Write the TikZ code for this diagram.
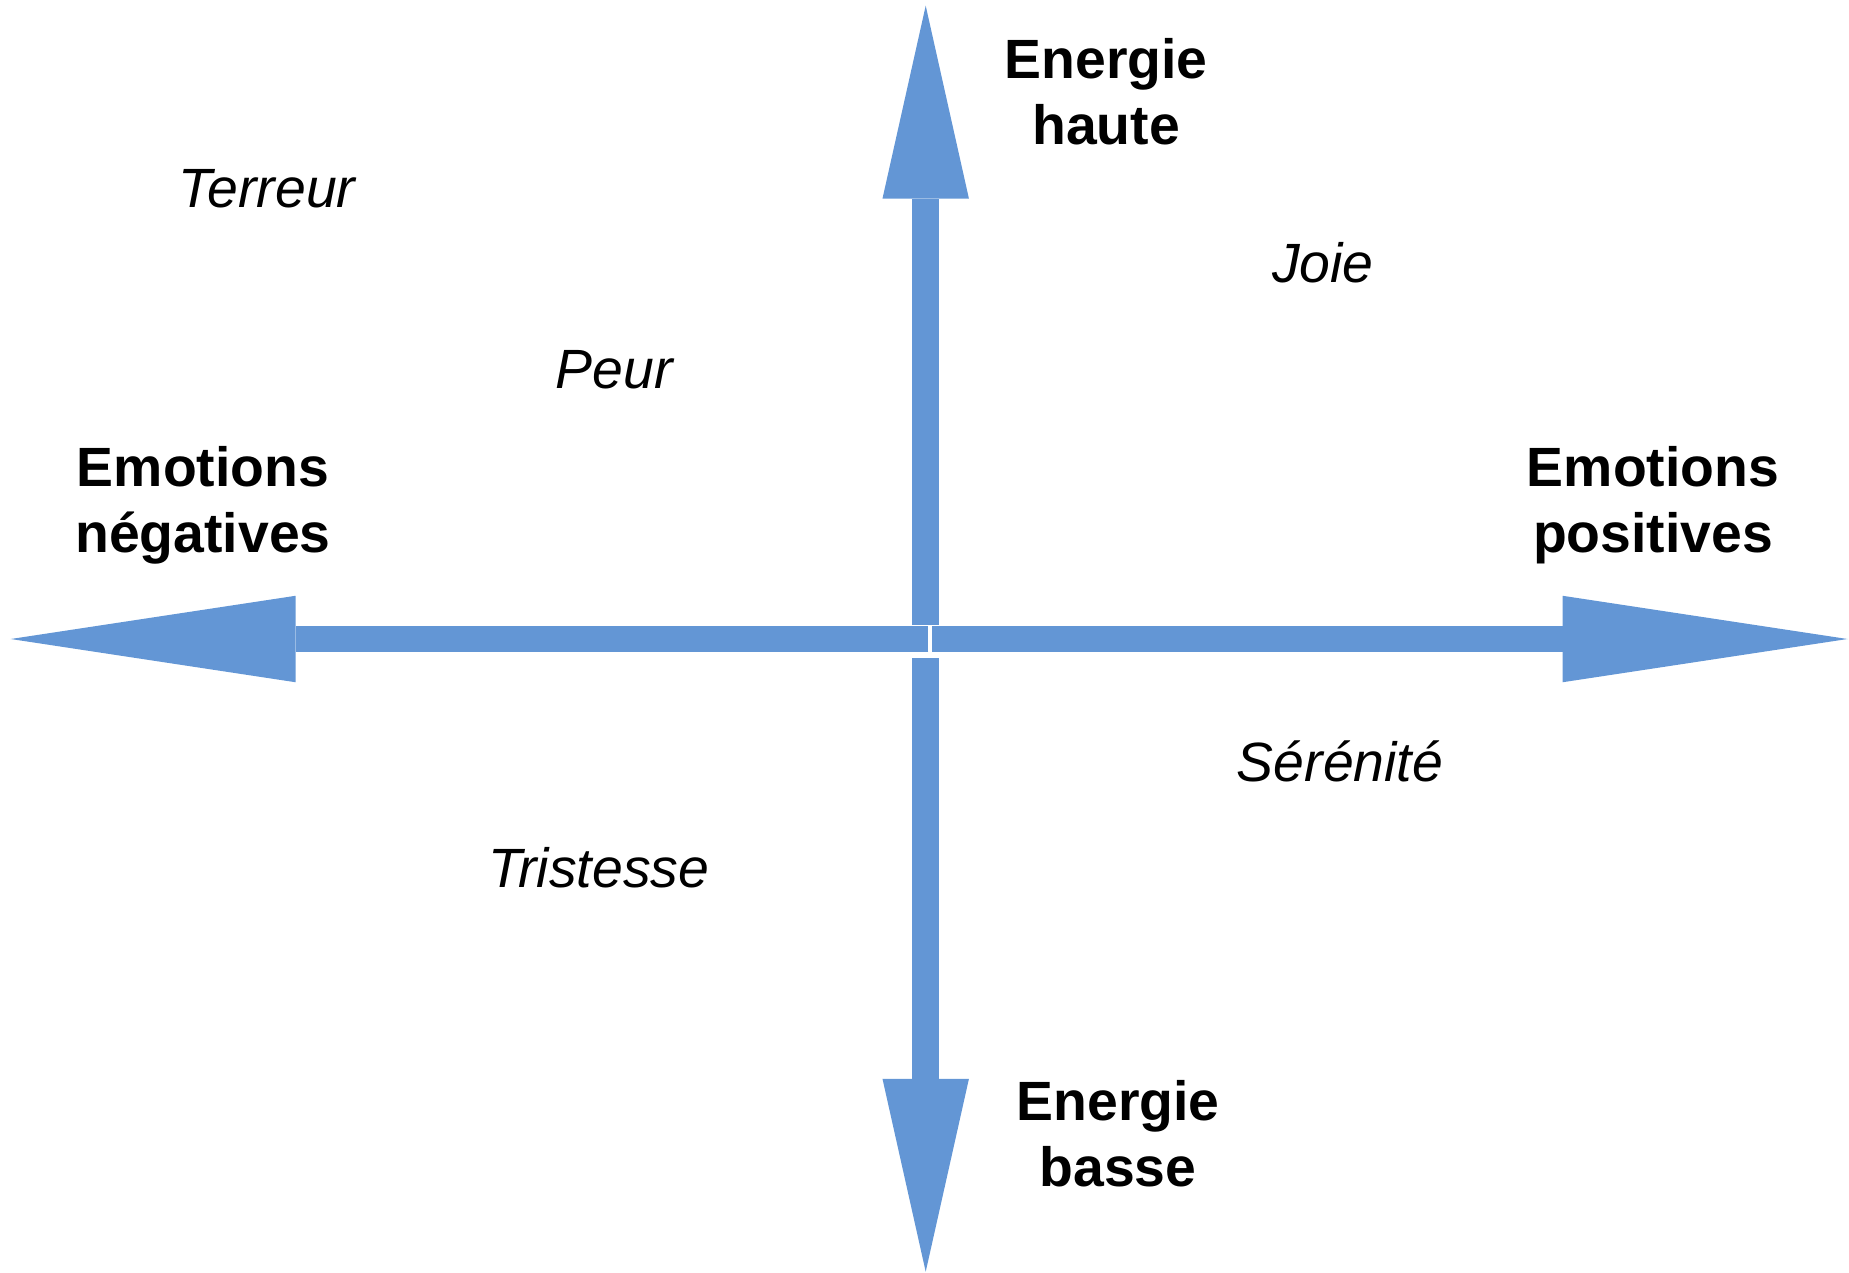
\documentclass[tikz,border=0pt]{standalone}
\usepackage{fontspec}
\setmainfont{Liberation Sans}
\usepackage{tikz}
\usetikzlibrary{arrows.meta}
\definecolor{axisblue}{RGB}{99,150,213}

\begin{document}
\begin{tikzpicture}[
        x=0.02cm, y=-0.02cm,
        axislabel/.style={font=\fontsize{31.5}{37.5}\selectfont\bfseries, align=center, inner sep=0pt},
        emotion/.style={font=\fontsize{31.5}{37.5}\selectfont\itshape, inner sep=0pt},
        vaxis/.style={draw=axisblue, line width=0.534cm, -{Triangle[length=3.86cm, width=1.73cm, line width=0pt, fill=axisblue]}},
        haxis/.style={draw=axisblue, line width=0.534cm, -{Triangle[length=5.7cm, width=1.73cm, line width=0pt, fill=axisblue]}}
    ]
        \useasboundingbox (0,0) rectangle (1849,1272);

        % Axis ends
        \coordinate (upstart) at (925.7,625);
        \coordinate (upend) at (925.7,5.7);
        \coordinate (downstart) at (925.7,658.3);
        \coordinate (downend) at (925.7,1271.7);
        \coordinate (leftstart) at (928.3,639);
        \coordinate (leftend) at (10.7,639);
        \coordinate (rightstart) at (932.3,639);
        \coordinate (rightend) at (1847.5,639);

        % Axes
        \draw[vaxis] (upstart) -- (upend);
        \draw[vaxis] (downstart) -- (downend);
        \draw[haxis] (leftstart) -- (leftend);
        \draw[haxis] (rightstart) -- (rightend);

        % Axis labels
        \node[axislabel] (high) at (1106,92) {Energie\\haute};
        \node[axislabel] (low) at (1118,1134) {Energie\\basse};
        \node[axislabel] (negative) at (203,505) {Emotions\\négatives};
        \node[axislabel] (positive) at (1653,505) {Emotions\\positives};

        % Emotions
        \node[emotion] (terror) at (267,189) {Terreur};
        \node[emotion] (fear) at (614,370) {Peur};
        \node[emotion] (joy) at (1323,263) {Joie};
        \node[emotion] (serenity) at (1340,761) {Sérénité};
        \node[emotion] (sadness) at (599,868) {Tristesse};

    \end{tikzpicture}
\end{document}
